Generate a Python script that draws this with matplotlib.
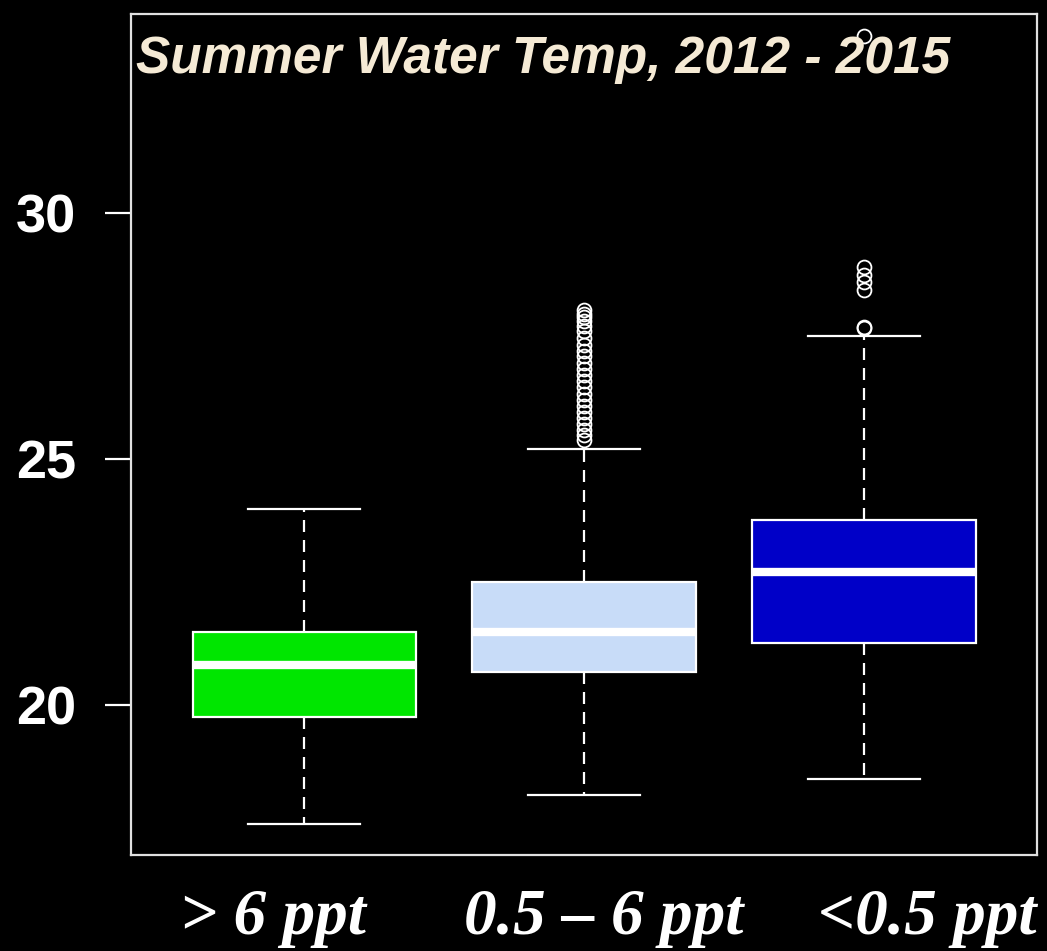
import matplotlib.pyplot as plt

# salinity classes and box statistics
groups = ['> 6 ppt', '0.5 \u2013 6 ppt', '<0.5 ppt']
whisker_low = [17.58, 18.17, 18.50]
q1 = [19.76, 20.67, 21.26]
medians = [20.81, 21.48, 22.70]
q3 = [21.48, 22.50, 23.76]
whisker_high = [23.98, 25.20, 27.50]
outliers = [
    [],
    [25.39, 25.48, 25.58, 25.70, 25.82, 25.95, 26.08, 26.20, 26.32, 26.45,
     26.58, 26.70, 26.82, 26.95, 27.08, 27.20, 27.32, 27.45, 27.60, 27.70,
     27.80, 27.88, 27.95, 28.02],
    [27.66, 27.68, 28.43, 28.60, 28.74, 28.90, 33.6],
]
box_colors = ['#00e600', '#c8dcf8', '#0000c8']

stats = []
for i in range(len(groups)):
    stats.append({'whislo': whisker_low[i], 'q1': q1[i], 'med': medians[i],
                  'q3': q3[i], 'whishi': whisker_high[i], 'fliers': outliers[i]})

fig = plt.figure(figsize=(10.47, 9.51), dpi=100, facecolor='black')
ax = fig.add_axes([0.1251, 0.1010, 0.8654, 0.8843], facecolor='black')

bp = ax.bxp(stats, positions=[1, 2, 3], widths=0.8, patch_artist=True,
            boxprops=dict(edgecolor='white', linewidth=1.6),
            medianprops=dict(color='white', linewidth=6, solid_capstyle='butt'),
            whiskerprops=dict(color='white', linewidth=1.6, linestyle=(0, (5.4, 3.6))),
            capprops=dict(color='white', linewidth=1.6),
            flierprops=dict(marker='o', markerfacecolor='none', markeredgecolor='white',
                            markersize=10, markeredgewidth=1.3))
for patch, c in zip(bp['boxes'], box_colors):
    patch.set_facecolor(c)
for cap in bp['caps']:
    x0, x1 = cap.get_xdata()
    mid = (x0 + x1) / 2
    cap.set_xdata([mid - 0.2, mid + 0.2])

ax.set_xlim(0.38, 3.62)
ax.set_ylim(16.95, 34.04)
ax.set_yticks([20, 25, 30])
ax.set_xticks([])
ax.tick_params(axis='y', colors='white', length=18.7, width=1.6, pad=21, labelsize=39)
for lab in ax.get_yticklabels():
    lab.set_fontweight('bold')
    lab.set_fontfamily('Liberation Sans')
for s in ax.spines.values():
    s.set_color('#e0e0e0')
    s.set_linewidth(1.6)

ax.text(0.006, 0.946, 'Summer Water Temp, 2012 - 2015', transform=ax.transAxes,
        color='#f5ead5', fontsize=37, fontweight='bold', fontstyle='italic',
        family='Liberation Sans', va='center', ha='left')

label_x = [0.261, 0.577, 0.886]
for x, g in zip(label_x, groups):
    fig.text(x, 0.018, g, color='white', fontsize=47, fontweight='bold',
             fontstyle='italic', family='Liberation Serif', ha='center', va='baseline')

fig.savefig('out.png', dpi=100, facecolor='black')
